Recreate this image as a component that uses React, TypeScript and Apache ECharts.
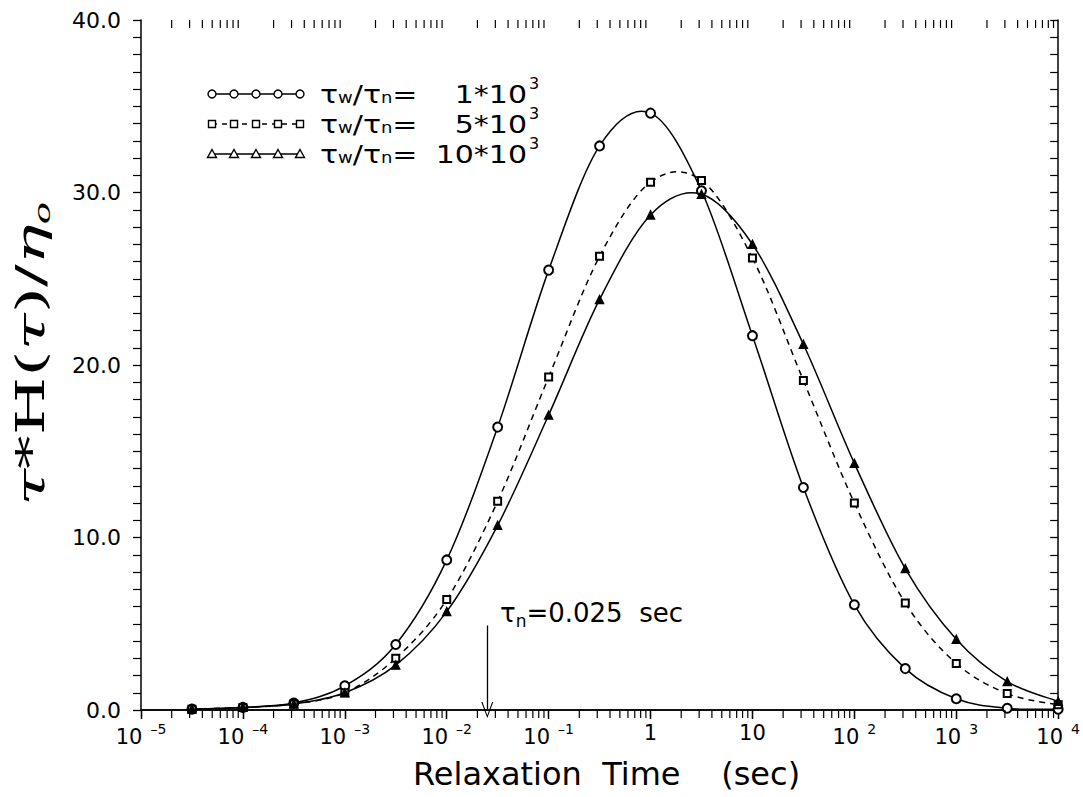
import React, { useEffect, useRef } from 'react';
import * as echarts from 'echarts';

// Relaxation times (sec) at which the spectra were evaluated
const relaxTimes = [3.16e-5, 1e-4, 3.16e-4, 1e-3, 3.16e-3, 1e-2, 3.16e-2, 0.1, 0.316, 1, 3.16, 10, 31.6, 100, 316, 1000, 3162, 10000];
// tau*H(tau)/eta0 for the three ratios tau_w/tau_n
const ratio1e3 = [0.05, 0.15, 0.4, 1.4, 3.8, 8.7, 16.4, 25.5, 32.7, 34.6, 30.1, 21.7, 12.9, 6.1, 2.4, 0.65, 0.1, 0.05];
const ratio5e3 = [0.05, 0.15, 0.35, 1.0, 3.0, 6.4, 12.1, 19.3, 26.3, 30.6, 30.7, 26.2, 19.1, 12.0, 6.2, 2.7, 0.95, 0.3];
const ratio10e3 = [0.05, 0.15, 0.35, 1.0, 2.6, 5.7, 10.7, 17.1, 23.8, 28.7, 29.9, 27.0, 21.2, 14.3, 8.2, 4.1, 1.65, 0.5];
const legendNumbers = ['1*10', '5*10', '10*10'];
const seriesNames = ['τw/τn= 1*10³', 'τw/τn= 5*10³', 'τw/τn=10*10³'];
const yMin = 0;
const yMax = 40;
const xMin = 1e-5;
const xMax = 1e4;
const tauN = 0.025;
const arrowTop = 4.9;

const FONT = 'DejaVu Sans';
const SERIF = 'DejaVu Serif';

function curveSeries(vals: number[], dashed: boolean) {
  const n = relaxTimes.length;
  const idx = (k: number) => Math.max(0, Math.min(n - 1, k));
  return {
    type: 'custom',
    coordinateSystem: 'cartesian2d',
    silent: true,
    z: 2,
    data: relaxTimes.map((t, i) => [t, vals[i]]),
    renderItem: (params: any, api: any) => {
      const i = params.dataIndex;
      if (i >= n - 1) return { type: 'group', children: [] };
      const P = (k: number) => api.coord([relaxTimes[idx(k)], vals[idx(k)]]);
      const p0 = P(i - 1);
      const p1 = api.coord([api.value(0), api.value(1)]);
      const p2 = P(i + 1);
      const p3 = P(i + 2);
      return {
        type: 'bezierCurve',
        shape: {
          x1: p1[0], y1: p1[1], x2: p2[0], y2: p2[1],
          cpx1: p1[0] + (p2[0] - p0[0]) / 6,
          cpy1: p1[1] + (p2[1] - p0[1]) / 6,
          cpx2: p2[0] - (p3[0] - p1[0]) / 6,
          cpy2: p2[1] - (p3[1] - p1[1]) / 6,
        },
        style: { stroke: '#000', fill: 'none', lineWidth: 1.5, lineDash: dashed ? [6, 5] : null },
      };
    },
  };
}

export default function App() {
  const ref = useRef<HTMLDivElement>(null);
  useEffect(() => {
    if (!ref.current) return;
    const chart = echarts.init(ref.current, null, { renderer: 'svg' });

    const minorTicks: number[][] = [];
    for (let e = -5; e < 4; e++) {
      for (let m = 2; m <= 9; m++) minorTicks.push([m * Math.pow(10, e), 0]);
    }

    const xLabel = (v: number) => {
      const e = Math.round(Math.log10(v));
      if (e === 0) return '{b|1}';
      if (e === 1) return '{b|10}';
      return '{b|10}{s|' + (e < 0 ? '–' + -e : '' + e) + '}';
    };

    const markerCommon = {
      type: 'scatter',
      symbolSize: 8,
      itemStyle: { color: '#000', borderColor: '#000', borderWidth: 1.4, opacity: 1 },
      z: 3,
    };

    const legendGraphics: any[] = [];
    [0, 1, 2].forEach((i) => {
      const y = 94 + 30 * i;
      const xs = [212, 234, 256, 278, 300];
      legendGraphics.push({
        type: 'line',
        shape: { x1: 212, y1: y, x2: 300, y2: y },
        style: { stroke: '#000', lineWidth: 1.5, lineDash: i === 1 ? [5, 5] : null },
      });
      xs.forEach((x) => {
        if (i === 0) {
          legendGraphics.push({ type: 'circle', shape: { cx: x, cy: y, r: 4 }, style: { fill: '#fff', stroke: '#000', lineWidth: 1.4 } });
        } else if (i === 1) {
          legendGraphics.push({ type: 'rect', shape: { x: x - 3.5, y: y - 3.5, width: 7, height: 7 }, style: { fill: '#fff', stroke: '#000', lineWidth: 1.4 } });
        } else {
          legendGraphics.push({ type: 'polygon', shape: { points: [[x, y - 4.5], [x + 4.5, y + 3.5], [x - 4.5, y + 3.5]] }, style: { fill: '#fff', stroke: '#000', lineWidth: 1.4 } });
        }
      });
      legendGraphics.push({
        type: 'text',
        x: 320,
        y: y,
        scaleX: 1.2,
        style: {
          text: '{a|τ}{sub|w}{a|/τ}{sub|n}{a|=}',
          verticalAlign: 'middle',
          align: 'left',
          rich: {
            a: { fontFamily: FONT, fontSize: 25, lineHeight: 24, fill: '#000' },
            sub: { fontFamily: FONT, fontSize: 15, lineHeight: 14, padding: [18, 0, 0, 0], verticalAlign: 'bottom', fill: '#000' },
          },
        },
      });
      legendGraphics.push({
        type: 'text',
        x: 527,
        y: y,
        scaleX: 1.2,
        style: { text: legendNumbers[i], fontFamily: FONT, fontSize: 25, lineHeight: 24, align: 'right', verticalAlign: 'middle', fill: '#000' },
      });
      legendGraphics.push({
        type: 'text',
        x: 529,
        y: y - 11,
        style: { text: '3', fontFamily: FONT, fontSize: 16, lineHeight: 14, align: 'left', verticalAlign: 'middle', fill: '#000' },
      });
    });

    const option: any = {
      animation: false,
      backgroundColor: '#fff',
      grid: { left: 141, right: 21, top: 20, bottom: 87, containLabel: false },
      xAxis: [
        {
          type: 'log',
          logBase: 10,
          min: xMin,
          max: xMax,
          position: 'bottom',
          name: 'Relaxation  Time    (sec)',
          nameLocation: 'middle',
          nameGap: 48,
          nameTextStyle: { fontFamily: FONT, fontSize: 32, color: '#000', padding: [0, 0, 0, 14] },
          axisLine: { show: true, lineStyle: { color: '#000', width: 1.5 } },
          axisTick: { show: true, inside: false, length: 9, lineStyle: { color: '#000', width: 1.3 } },
          splitLine: { show: false },
          axisLabel: {
            margin: 12,
            formatter: xLabel,
            rich: {
              b: { fontFamily: FONT, fontSize: 21, color: '#000' },
              s: { fontFamily: FONT, fontSize: 14, color: '#000', padding: [0, 0, 16, 8] },
            },
          },
        },
        {
          type: 'log',
          logBase: 10,
          min: xMin,
          max: xMax,
          position: 'top',
          axisLine: { show: true, lineStyle: { color: '#000', width: 1.5 } },
          axisTick: { show: true, inside: true, length: 9, lineStyle: { color: '#000', width: 1.3 } },
          axisLabel: { show: false },
          splitLine: { show: false },
        },
      ],
      yAxis: [
        {
          type: 'value',
          min: yMin,
          max: yMax,
          interval: 10,
          position: 'left',
          axisLine: { show: true, lineStyle: { color: '#000', width: 1.5 } },
          axisTick: { show: true, inside: false, length: 8, lineStyle: { color: '#000', width: 1.3 } },
          minorTick: { show: true, splitNumber: 10, length: 8, lineStyle: { color: '#000', width: 1.2 } },
          splitLine: { show: false },
          axisLabel: {
            margin: 20,
            fontFamily: FONT,
            fontSize: 22,
            color: '#000',
            formatter: (v: number) => v.toFixed(1),
          },
        },
        {
          type: 'value',
          min: yMin,
          max: yMax,
          interval: 10,
          position: 'right',
          axisLine: { show: true, lineStyle: { color: '#000', width: 1.5 } },
          axisTick: { show: true, inside: true, length: 8, lineStyle: { color: '#000', width: 1.3 } },
          minorTick: { show: true, splitNumber: 10, length: 8, lineStyle: { color: '#000', width: 1.2 } },
          splitLine: { show: false },
          axisLabel: { show: false },
        },
      ],
      series: [
        curveSeries(ratio1e3, false),
        curveSeries(ratio5e3, true),
        curveSeries(ratio10e3, false),
        {
          ...markerCommon,
          name: seriesNames[0],
          symbol: 'emptyCircle',
          symbolSize: 9,
          data: relaxTimes.map((t, i) => [t, ratio1e3[i]]),
          markLine: {
            silent: true,
            symbol: ['none', 'path://M5,0 L10,12 L9,12 L5,2 L1,12 L0,12 Z'],
            symbolSize: [12, 16],
            lineStyle: { color: '#000', width: 1.3, type: 'solid' },
            label: { show: false },
            data: [[{ coord: [tauN, arrowTop] }, { coord: [tauN, 0] }]],
          },
        },
        {
          ...markerCommon,
          name: seriesNames[1],
          symbol: 'emptyRect',
          symbolSize: 7,
          data: relaxTimes.map((t, i) => [t, ratio5e3[i]]),
        },
        {
          ...markerCommon,
          name: seriesNames[2],
          symbol: 'triangle',
          symbolSize: 8,
          data: relaxTimes.map((t, i) => [t, ratio10e3[i]]),
        },
        {
          type: 'custom',
          coordinateSystem: 'cartesian2d',
          clip: false,
          silent: true,
          z: 4,
          data: minorTicks,
          renderItem: (params: any, api: any) => {
            const b = api.coord([api.value(0), yMin]);
            const t = api.coord([api.value(0), yMax]);
            return {
              type: 'group',
              children: [
                { type: 'line', shape: { x1: b[0], y1: b[1], x2: b[0], y2: b[1] + 8 }, style: { stroke: '#000', lineWidth: 1.2 } },
                { type: 'line', shape: { x1: t[0], y1: t[1], x2: t[0], y2: t[1] + 8 }, style: { stroke: '#000', lineWidth: 1.2 } },
              ],
            };
          },
        },
      ],
      graphic: [
        ...legendGraphics,
        {
          type: 'text',
          x: 30,
          y: 354,
          rotation: Math.PI / 2,
          scaleX: 1.68,
          style: {
            text: '{i|τ}{n|*H(}{i|τ}{n|)/}{i|η}{sub|o}',
            align: 'center',
            verticalAlign: 'middle',
            rich: {
              i: { fontFamily: SERIF, fontStyle: 'italic', fontSize: 40, lineHeight: 46, fill: '#000' },
              n: { fontFamily: SERIF, fontSize: 40, lineHeight: 46, fill: '#000' },
              sub: { fontFamily: SERIF, fontStyle: 'italic', fontSize: 22, lineHeight: 22, verticalAlign: 'bottom', fill: '#000' },
            },
          },
        },
        {
          type: 'text',
          x: 500,
          y: 613,
          style: {
            text: '{i|τ}{sub|n}{a|=0.025  sec}',
            align: 'left',
            verticalAlign: 'middle',
            rich: {
              i: { fontFamily: FONT, fontSize: 26, lineHeight: 32, fill: '#000' },
              a: { fontFamily: FONT, fontSize: 26, lineHeight: 32, fill: '#000' },
              sub: { fontFamily: FONT, fontSize: 17, lineHeight: 17, verticalAlign: 'bottom', fill: '#000' },
            },
          },
        },
      ],
    };
    chart.setOption(option);
    return () => chart.dispose();
  }, []);
  return <div ref={ref} style={{ position: 'absolute', left: 0, top: 0, width: 1083, height: 797 }} />;
}
